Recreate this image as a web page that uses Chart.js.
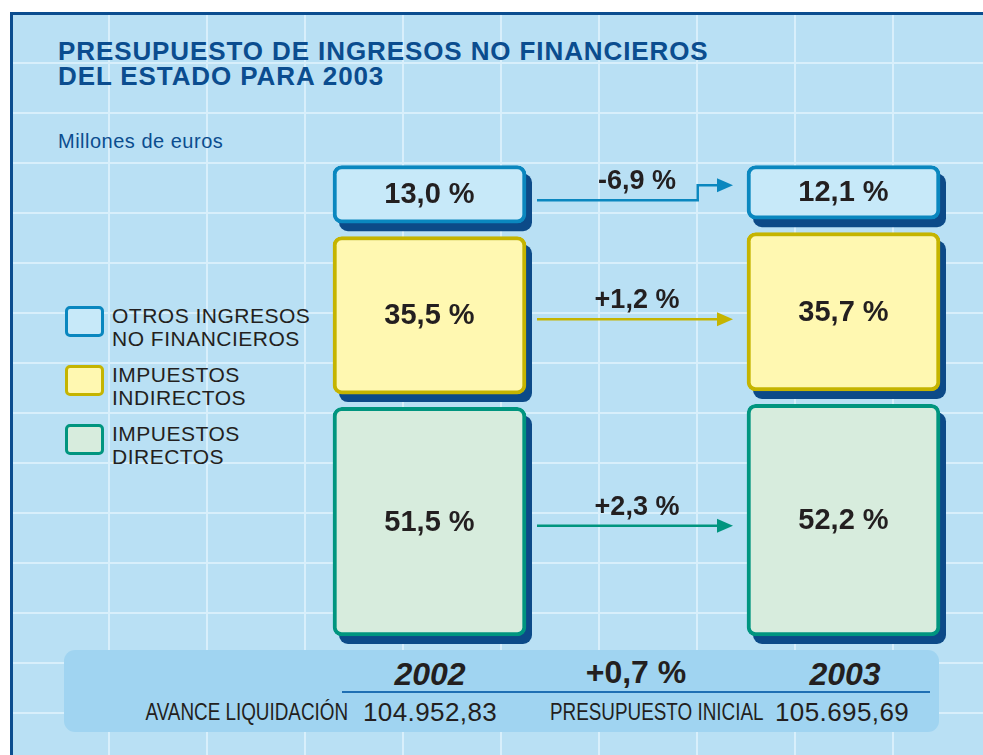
<!DOCTYPE html>
<html lang="es">
<head>
<meta charset="utf-8">
<title>Presupuesto de ingresos no financieros 2003</title>
<script src="https://cdn.jsdelivr.net/npm/chart.js@4.4.1/dist/chart.umd.min.js"></script>
<style>
  html, body { margin: 0; padding: 0; background: #fff; }
  body { width: 983px; height: 755px; position: relative; overflow: hidden;
         font-family: "Liberation Sans", Arial, Helvetica, sans-serif; color: #231f20; }
  #frame { position: absolute; left: 10px; top: 12px; width: 970px; height: 740px;
           border-left: 3px solid #0b4d8f; border-top: 3px solid #0b4d8f;
           background-color: #b9e0f4;
           background-image: linear-gradient(90deg, #d8effb 2px, transparent 2px),
                             linear-gradient(180deg, #d8effb 2px, transparent 2px);
           background-size: 98px 50px; background-position: 95px 47px; }
  #title { position: absolute; left: 58px; top: 39px; font-size: 26px; line-height: 25px;
           font-weight: bold; color: #0b4d8f; letter-spacing: 0.9px; }
  #units { position: absolute; left: 58px; top: 131px; font-size: 20px; line-height: 20px;
           color: #0b4d8f; letter-spacing: 0.5px; }
  #legend { position: absolute; left: 65px; top: 304px; }
  .item { position: relative; height: 46px; margin-bottom: 13px; }
  .box { position: absolute; left: 0; top: 2px; width: 39px; height: 31px; box-sizing: border-box;
         border: 3px solid; border-radius: 5px; }
  .txt { position: absolute; left: 47px; top: 0; width: 215px; font-size: 21px; line-height: 23px;
         letter-spacing: 0.5px; }
  #band { position: absolute; left: 64px; top: 650px; width: 875px; height: 82px;
          border-radius: 11px; background: #a0d4f1; }
  #rule { position: absolute; left: 342px; top: 691px; width: 588px; height: 2px; background: #1f6fb3; }
  .t { position: absolute; line-height: 1; white-space: nowrap; }
  .year { font-size: 32px; font-weight: bold; font-style: italic; width: 120px; text-align: center; top: 658px; }
  .narrow { font-size: 23px; top: 701px; transform: scaleX(0.82); }
  .num { font-size: 26px; top: 699px; letter-spacing: 0.4px; }
  canvas { position: absolute; left: 0; top: 0; }
</style>
</head>
<body>
<div id="frame"></div>
<div id="title">PRESUPUESTO DE INGRESOS NO FINANCIEROS<br>DEL ESTADO PARA 2003</div>
<div id="units">Millones de euros</div>
<div id="legend"></div>
<div id="band"></div>
<div id="rule"></div>
<div id="totals"></div>
<canvas id="chart" width="983" height="755"></canvas>
<script>
// years and shares (%) of each revenue type
const CATEGORIES = ['2002', '2003'];
const SERIES = ['IMPUESTOS DIRECTOS', 'IMPUESTOS INDIRECTOS', 'OTROS INGRESOS NO FINANCIEROS'];
const DIRECTOS = [51.5, 52.2];
const INDIRECTOS = [35.5, 35.7];
const OTROS = [13.0, 12.1];
// change 2002 -> 2003 (%) per series, same order as SERIES
const CHANGES = [2.3, 1.2, -6.9];
// totals (millones de euros)
const TOTAL_LABELS = ['AVANCE LIQUIDACIÓN', 'PRESUPUESTO INICIAL'];
const TOTALS = [104952.83, 105695.69];
const TOTAL_CHANGE = 0.7;

const BORDERS = ['#00957f', '#c5b400', '#0a87bf'];
const FILLS = ['#d7ecdd', '#fff8b1', '#c7e9f9'];
const SHADOW = '#0c4a88';
const GAP = 3; // empty space between stacked boxes, in axis units

const stacks = [DIRECTOS, INDIRECTOS, OTROS];

function floating(idx) {
  return CATEGORIES.map((_, j) => {
    let start = idx * GAP;
    for (let k = 0; k < idx; k++) start += stacks[k][j];
    return [start, start + stacks[idx][j]];
  });
}

function pct(v, sign) {
  const s = Math.abs(v).toFixed(1).replace('.', ',');
  return (sign ? (v < 0 ? '-' : '+') : '') + s + ' %';
}

function money(v) {
  const [int, dec] = v.toFixed(2).split('.');
  return int.replace(/\B(?=(\d{3})+(?!\d))/g, '.') + ',' + dec;
}

// legend, top entry first
const legend = document.getElementById('legend');
for (let i = SERIES.length - 1; i >= 0; i--) {
  const item = document.createElement('div');
  item.className = 'item';
  item.innerHTML = '<div class="box" style="border-color:' + BORDERS[i] + ';background:' + FILLS[i] +
    '"></div><div class="txt">' + SERIES[i] + '</div>';
  legend.appendChild(item);
}

// bottom band
const totals = document.getElementById('totals');
totals.innerHTML =
  '<div class="t year" style="left:370px">' + CATEGORIES[0] + '</div>' +
  '<div class="t" style="left:536px;width:200px;text-align:center;top:656px;font-size:32px;font-weight:bold">' + pct(TOTAL_CHANGE, true) + '</div>' +
  '<div class="t year" style="left:785px">' + CATEGORIES[1] + '</div>' +
  '<div class="t narrow" style="right:635px;transform-origin:right center">' + TOTAL_LABELS[0] + '</div>' +
  '<div class="t num" style="left:363px">' + money(TOTALS[0]) + '</div>' +
  '<div class="t narrow" style="left:550px;transform-origin:left center">' + TOTAL_LABELS[1] + '</div>' +
  '<div class="t num" style="left:775px">' + money(TOTALS[1]) + '</div>';

const shadowPlugin = {
  id: 'shadows',
  beforeDatasetsDraw(chart) {
    const ctx = chart.ctx;
    ctx.save();
    ctx.fillStyle = SHADOW;
    chart.data.datasets.forEach((ds, i) => {
      chart.getDatasetMeta(i).data.forEach(el => {
        const { x, y, base, width } = el.getProps(['x', 'y', 'base', 'width'], true);
        ctx.beginPath();
        ctx.roundRect(x - width / 2 + 6, Math.min(y, base) + 8, width, Math.abs(base - y), 9);
        ctx.fill();
      });
    });
    ctx.restore();
  }
};

const labelPlugin = {
  id: 'boxLabels',
  afterDatasetsDraw(chart) {
    const ctx = chart.ctx;
    ctx.save();
    ctx.fillStyle = '#231f20';
    ctx.textAlign = 'center';
    ctx.textBaseline = 'middle';
    ctx.font = 'bold 29px "Liberation Sans", Arial, sans-serif';
    chart.data.datasets.forEach((ds, i) => {
      chart.getDatasetMeta(i).data.forEach((el, j) => {
        ctx.fillText(pct(ds.values[j], false), el.x, (el.y + el.base) / 2 + 1);
      });
    });

    // arrows from 2002 to 2003 with the change
    ctx.lineWidth = 2.5;
    ctx.font = 'bold 27px "Liberation Sans", Arial, sans-serif';
    ctx.textBaseline = 'alphabetic';
    chart.data.datasets.forEach((ds, i) => {
      const [a, b] = chart.getDatasetMeta(i).data;
      const x0 = a.x + a.width / 2 + 11;
      const x1 = b.x - b.width / 2 - 14;
      const c0 = (a.y + a.base) / 2;
      const c1 = (b.y + b.base) / 2;
      const step = ds.arrow === 'step';
      const y0 = step ? c0 + 6 : c0 + 4;
      const y1 = step ? c1 - 7 : y0;
      const xs = x0 + 0.82 * (x1 - x0);
      ctx.strokeStyle = BORDERS[i];
      ctx.fillStyle = BORDERS[i];
      ctx.beginPath();
      ctx.moveTo(x0, y0);
      if (step) { ctx.lineTo(xs, y0); ctx.lineTo(xs, y1); }
      ctx.lineTo(x1 - 14, y1);
      ctx.stroke();
      ctx.beginPath();
      ctx.moveTo(x1, y1);
      ctx.lineTo(x1 - 16, y1 - 7);
      ctx.lineTo(x1 - 16, y1 + 7);
      ctx.closePath();
      ctx.fill();
      ctx.fillStyle = '#231f20';
      ctx.fillText(pct(CHANGES[i], true), (x0 + x1) / 2 + 2, y0 - 11);
    });
    ctx.restore();
  }
};

const maxTotal = Math.max(...CATEGORIES.map((_, j) => stacks.reduce((s, arr) => s + arr[j], 0)));

new Chart(document.getElementById('chart'), {
  type: 'bar',
  data: {
    labels: CATEGORIES,
    datasets: SERIES.map((name, i) => ({
      label: name,
      data: floating(i),
      values: stacks[i],
      arrow: i === 2 ? 'step' : 'straight',
      backgroundColor: FILLS[i],
      borderColor: BORDERS[i],
      borderWidth: 4,
      borderRadius: 9,
      borderSkipped: false,
      barThickness: 193,
      grouped: false,
      clip: false
    }))
  },
  options: {
    responsive: false,
    devicePixelRatio: 1,
    animation: false,
    layout: { padding: { left: 429.5, right: 139.5, top: 165.5, bottom: 119 } },
    scales: {
      x: { display: false, offset: false },
      y: { display: false, min: 0, max: maxTotal + 2 * GAP }
    },
    plugins: { legend: { display: false }, title: { display: false }, tooltip: { enabled: false } }
  },
  plugins: [shadowPlugin, labelPlugin]
});
</script>
</body>
</html>
